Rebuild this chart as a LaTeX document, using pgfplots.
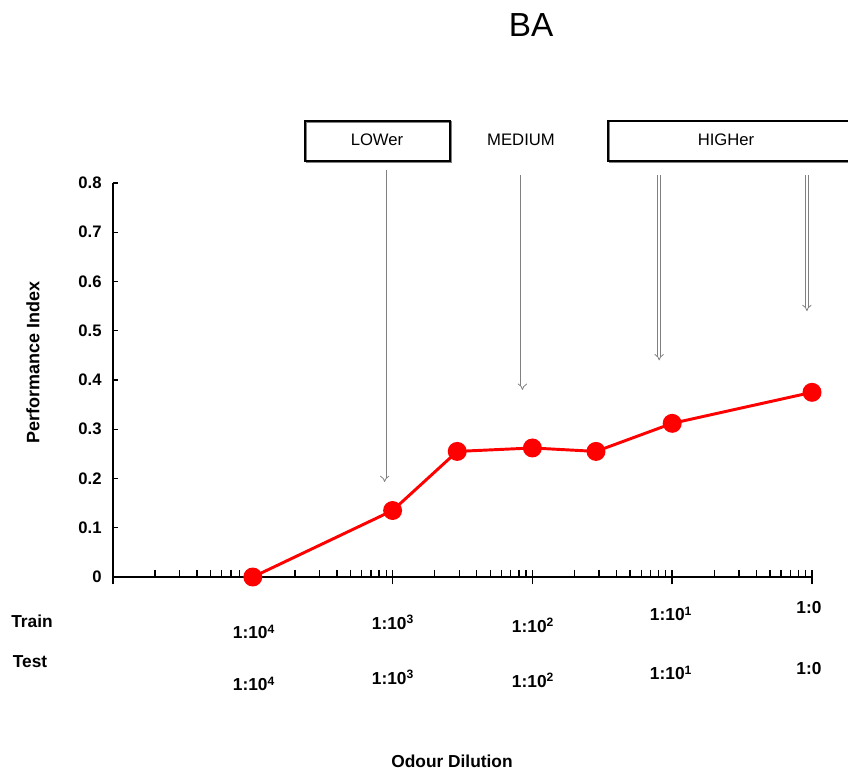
\documentclass[border=0pt]{standalone}
\usepackage{fontspec}
\setmainfont{Liberation Sans}
\usepackage{pgfplots}
\pgfplotsset{compat=1.18}
\usetikzlibrary{arrows.meta}
\begin{document}
\begin{tikzpicture}[x=0.75pt,y=0.75pt]
\path[use as bounding box] (0,0) rectangle (848,772);
\begin{axis}[
  at={(84.75pt,146.25pt)}, anchor=south west, scale only axis,
  width=524.25pt, height=295.5pt,
  xmode=log, xmin=1e-5, xmax=1, ymin=0, ymax=0.8,
  axis lines=left, axis line style={-, line width=1.3pt, black},
  xtick={1e-5,1e-4,1e-3,1e-2,1e-1,1}, xticklabels={},
  ytick={0,0.1,0.2,0.3,0.4,0.5,0.6,0.7,0.8},
  yticklabels={0,0.1,0.2,0.3,0.4,0.5,0.6,0.7,0.8},
  /pgf/number format/assume math mode=true,
  yticklabel style={font=\fontsize{12.5}{14}\selectfont\bfseries, xshift=-5pt},
  tick align=inside,
  tick style={black, line width=1pt},
  major tick length=4pt,
  minor tick length=5pt,
  clip=false,
]
\addplot[red, line width=2.2pt, mark=*, mark size=6pt, mark options={solid, fill=red, draw=red}]
  coordinates {(1e-4,0) (1e-3,0.135) (2.9e-3,0.255) (1e-2,0.262) (2.85e-2,0.255) (1e-1,0.312) (1,0.375)};
% major x ticks crossing axis
\pgfplotsinvokeforeach{1e-5,1e-3,1e-2,1e-1,1}{
  \draw[black, line width=1.1pt] ([yshift=-5.5pt]axis cs:#1,0) -- ([yshift=5.5pt]axis cs:#1,0);
}
% arrows
\draw[draw=gray, line width=0.6pt, double=white, double distance=1.8pt, -{Implies}] (axis cs:8.77e-4,0.826) -- (axis cs:8.77e-4,0.193);
\draw[draw=gray, line width=0.6pt, double=white, double distance=1.8pt, -{Implies}] (axis cs:8.49e-3,0.816) -- (axis cs:8.49e-3,0.38);
\draw[draw=gray, line width=0.6pt, double=white, double distance=1.8pt, -{Implies}] (axis cs:8.07e-2,0.816) -- (axis cs:8.07e-2,0.44);
\draw[draw=gray, line width=0.6pt, double=white, double distance=1.8pt, -{Implies}] (axis cs:0.92,0.816) -- (axis cs:0.92,0.54);
\end{axis}
% title
\node at (531,747) {\fontsize{25}{30}\selectfont BA};
% boxes
\draw[gray, line width=1pt] (306.5,609.5) rectangle (451.5,650);
\draw[black, line width=1.3pt] (305,611) rectangle (450,651);
\draw[gray, line width=1pt] (848,609.5) -- (609.5,609.5) -- (609.5,650);
\draw[black, line width=1.3pt] (848,651) -- (608,651) -- (608,611) -- (848,611);
\node at (377,632) {\fontsize{12.5}{15}\selectfont LOWer};
\node at (521,632) {\fontsize{12.5}{15}\selectfont MEDIUM};
\node at (726,632) {\fontsize{12.5}{15}\selectfont HIGHer};
% axis labels
\node[rotate=90] at (33,410) {\fontsize{13.5}{16}\selectfont\bfseries Performance Index};
\node at (452,11) {\fontsize{13}{15}\selectfont\bfseries Odour Dilution};
\node at (32,151) {\fontsize{13}{15}\selectfont\bfseries Train};
\node at (30,110) {\fontsize{13}{15}\selectfont\bfseries Test};
% train row
\begin{scope}[every node/.style={font=\fontsize{13}{15}\selectfont\bfseries}]
\node at (254,140) {1:10\textsuperscript{4}};
\node at (393,150) {1:10\textsuperscript{3}};
\node at (533,147) {1:10\textsuperscript{2}};
\node at (671,158) {1:10\textsuperscript{1}};
\node at (809,164) {1:0};
\node at (254,88) {1:10\textsuperscript{4}};
\node at (393,95) {1:10\textsuperscript{3}};
\node at (533,92) {1:10\textsuperscript{2}};
\node at (671,99) {1:10\textsuperscript{1}};
\node at (809,103) {1:0};
\end{scope}
\end{tikzpicture}
\end{document}
